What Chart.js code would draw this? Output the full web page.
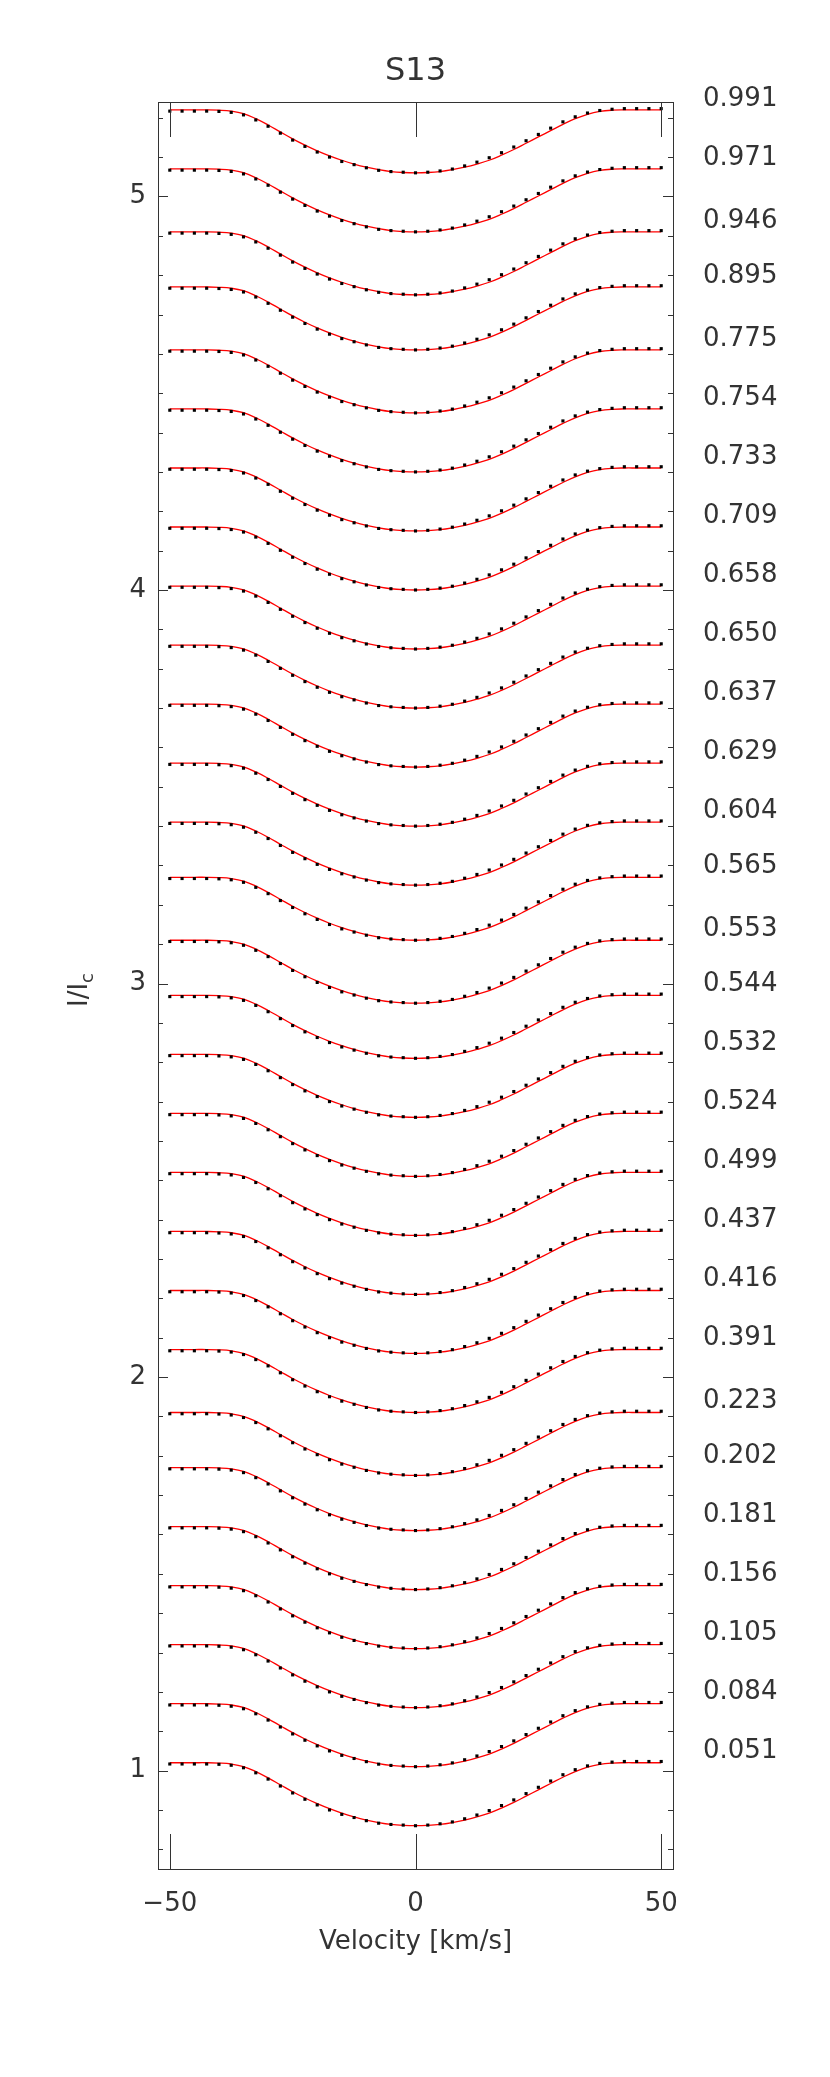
<!DOCTYPE html>
<html>
<head>
<meta charset="utf-8">
<script src="https://cdn.jsdelivr.net/npm/chart.js@4.4.1/dist/chart.umd.min.js"></script>
<style>
  body { margin: 0; background: #fff; }
</style>
</head>
<body>
<canvas id="c" width="830" height="2077"></canvas>
<script>
// velocity grid (km/s)
const velocities = [-50, -47.5, -45, -42.5, -40, -37.5, -35, -32.5, -30, -27.5, -25, -22.5, -20, -17.5, -15, -12.5, -10, -7.5, -5, -2.5,
  0, 2.5, 5, 7.5, 10, 12.5, 15, 17.5, 20, 22.5, 25, 27.5, 30, 32.5, 35, 37.5, 40, 42.5, 45, 47.5, 50];
// fractional line depth of the red model profile
const modelShape = [0, 0, 0, 0, 0.005, 0.02, 0.06, 0.14, 0.24, 0.35, 0.46, 0.56, 0.65, 0.73, 0.80, 0.86, 0.91, 0.95, 0.98, 0.995,
  1, 0.995, 0.98, 0.95, 0.91, 0.86, 0.80, 0.72, 0.63, 0.53, 0.43, 0.33, 0.23, 0.14, 0.07, 0.025, 0.005, 0, 0, 0, 0];
// fractional line depth of the observed (dotted) profile
const obsShape = [0.02, 0.02, 0.02, 0.02, 0.025, 0.04, 0.08, 0.16, 0.26, 0.37, 0.48, 0.58, 0.67, 0.75, 0.82, 0.87, 0.92, 0.96, 0.98, 0.99,
  1, 0.99, 0.97, 0.94, 0.89, 0.83, 0.76, 0.68, 0.59, 0.49, 0.39, 0.29, 0.19, 0.11, 0.05, 0.01, -0.01, -0.02, -0.02, -0.02, -0.02];
// rotation phases, bottom to top
const phases = ['0.051', '0.084', '0.105', '0.156', '0.181', '0.202', '0.223', '0.391', '0.416', '0.437', '0.499', '0.524', '0.532',
  '0.544', '0.553', '0.565', '0.604', '0.629', '0.637', '0.650', '0.658', '0.709', '0.733', '0.754', '0.775', '0.895', '0.946', '0.971', '0.991'];
// continuum level of each profile (offset), bottom to top
const continuum = [1.02, 1.17, 1.32, 1.47, 1.62, 1.77, 1.91, 2.07, 2.22, 2.37, 2.52, 2.67, 2.82, 2.97, 3.11, 3.27, 3.41, 3.56, 3.71,
  3.86, 4.01, 4.16, 4.31, 4.46, 4.61, 4.77, 4.91, 5.07, 5.22];
// line depth of each profile
const depths = [0.16, 0.16, 0.16, 0.16, 0.16, 0.16, 0.16, 0.16, 0.16, 0.16, 0.16, 0.16, 0.16, 0.16, 0.16, 0.16, 0.16, 0.16, 0.16,
  0.16, 0.16, 0.16, 0.16, 0.16, 0.16, 0.16, 0.16, 0.16, 0.16];
const xTicks = [-50, 0, 50];
const yTicks = [1, 2, 3, 4, 5];

const FONT = 'DejaVu Sans';
const INK = '#333';

const datasets = [];
continuum.forEach((c, i) => {
  datasets.push({
    type: 'line',
    data: velocities.map((v, k) => ({ x: v, y: c - depths[i] * modelShape[k] })),
    borderColor: '#ff0000', borderWidth: 1.3, pointRadius: 0, tension: 0.4, order: 1
  });
  datasets.push({
    type: 'scatter',
    data: velocities.map((v, k) => ({ x: v, y: c - depths[i] * obsShape[k] })),
    pointStyle: 'rect', pointRadius: 2.2, backgroundColor: '#000', borderWidth: 0, order: 0
  });
});

const decor = {
  id: 'decor',
  afterDraw(chart) {
    const { ctx, chartArea: a, scales: { x, y } } = chart;
    ctx.save();
    ctx.strokeStyle = INK;
    ctx.lineWidth = 1;
    ctx.strokeRect(Math.round(a.left) + 0.5, Math.round(a.top) + 0.5, Math.round(a.right - a.left), Math.round(a.bottom - a.top));
    // y ticks inward on both sides
    for (let k = 8; k <= 52; k++) {
      const v = k / 10;
      if (v < y.min || v > y.max) continue;
      const py = Math.round(y.getPixelForValue(v)) + 0.5;
      const len = k % 10 === 0 ? 10 : 5;
      ctx.beginPath();
      ctx.moveTo(a.left, py); ctx.lineTo(a.left + len, py);
      ctx.moveTo(a.right, py); ctx.lineTo(a.right - len, py);
      ctx.stroke();
    }
    // x ticks inward top and bottom
    xTicks.forEach(v => {
      const px = Math.round(x.getPixelForValue(v)) + 0.5;
      ctx.beginPath();
      ctx.moveTo(px, a.bottom); ctx.lineTo(px, a.bottom - 35);
      ctx.moveTo(px, a.top); ctx.lineTo(px, a.top + 35);
      ctx.stroke();
    });
    ctx.fillStyle = INK;
    // phase labels
    ctx.font = '26px ' + FONT;
    ctx.textAlign = 'left';
    ctx.textBaseline = 'middle';
    phases.forEach((p, i) => {
      ctx.fillText(p, 703, y.getPixelForValue(continuum[i]) - 11);
    });
    // title
    ctx.textAlign = 'center';
    ctx.font = '32px ' + FONT;
    ctx.fillText('S13', (a.left + a.right) / 2, 72);
    // x title
    ctx.font = '26px ' + FONT;
    ctx.fillText('Velocity [km/s]', (a.left + a.right) / 2, 1942);
    // y title
    ctx.translate(80, 990);
    ctx.rotate(-Math.PI / 2);
    ctx.textAlign = 'left';
    ctx.font = '26px ' + FONT;
    const w1 = ctx.measureText('I/I').width;
    ctx.font = '18px ' + FONT;
    const w2 = ctx.measureText('c').width;
    const sx = -(w1 + w2) / 2;
    ctx.font = '26px ' + FONT;
    ctx.fillText('I/I', sx, 0);
    ctx.font = '18px ' + FONT;
    ctx.fillText('c', sx + w1, 8);
    ctx.restore();
  }
};

new Chart(document.getElementById('c'), {
  data: { datasets },
  options: {
    responsive: false,
    animation: false,
    events: [],
    layout: { padding: { left: 0, top: 102, right: 157, bottom: 128 } },
    plugins: { legend: { display: false }, tooltip: { enabled: false } },
    scales: {
      x: {
        type: 'linear', min: -52.4, max: 52.4,
        afterFit: s => { s.height = 80; },
        grid: { display: false, drawTicks: false },
        border: { color: INK, width: 1 },
        afterBuildTicks: s => { s.ticks = xTicks.map(v => ({ value: v })); },
        ticks: {
          padding: 20, color: INK, font: { family: FONT, size: 26 },
          callback: v => (v < 0 ? '\u2212' + Math.abs(v) : String(v))
        }
      },
      y: {
        type: 'linear', min: 0.75, max: 5.24,
        afterFit: s => { s.width = 158; },
        grid: { display: false, drawTicks: false },
        border: { color: INK, width: 1 },
        afterBuildTicks: s => { s.ticks = yTicks.map(v => ({ value: v })); },
        ticks: { padding: 12, color: INK, font: { family: FONT, size: 26 } }
      }
    }
  },
  plugins: [decor]
});
</script>
</body>
</html>
